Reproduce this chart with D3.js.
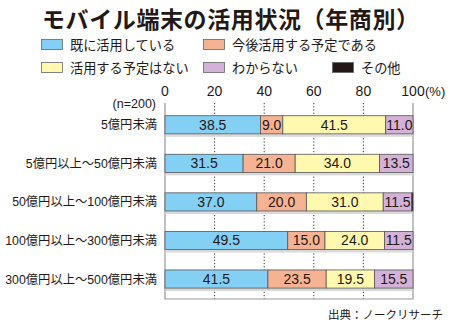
<!DOCTYPE html>
<html><head><meta charset="utf-8">
<script src="https://cdn.jsdelivr.net/npm/d3@7"></script>
<style>body{margin:0;background:#fff}svg{display:block}text{font-family:"Liberation Sans","Noto Sans CJK JP",sans-serif;fill:#231815}.jp{font-family:"Noto Sans CJK JP","Noto Sans",sans-serif}</style>
</head><body><svg id="c" width="450" height="324"></svg>
<script>
const title = "モバイル端末の活用状況（年商別）";
const categories = ["5億円未満","5億円以上～50億円未満","50億円以上～100億円未満","100億円以上～300億円未満","300億円以上～500億円未満"];
const seriesNames = ["既に活用している","今後活用する予定である","活用する予定はない","わからない","その他"];
const s1 = [38.5,31.5,37.0,49.5,41.5];
const s2 = [9.0,21.0,20.0,15.0,23.5];
const s3 = [41.5,34.0,31.0,24.0,19.5];
const s4 = [11.0,13.5,11.5,11.5,15.5];
const s5 = [0,0,0.5,0,0];
const ticks = [0,20,40,60,80,100];
const colors = ["#84d0f5","#f5b394","#fff9b0","#d4b2d8","#231815"];

const svg = d3.select("#c");
const series = [s1,s2,s3,s4,s5];
const x = d3.scaleLinear().domain([0,100]).range([165,413]);
const y = d3.scaleBand().domain(categories).range([105.5,298.3]).paddingInner(0.53).paddingOuter(0.265);

const tt = svg.append("text").attr("class","jp").attr("x",42).attr("y",28)
  .attr("font-size",23).attr("font-weight","bold").text(title);
const tl = tt.node().getComputedTextLength();
const n = title.length;
tt.style("letter-spacing", ((377 - tl)/(n-1)) + "px");

// legend
const legPos = [[41,45],[203,45],[41,68],[203,68],[332,68]];
seriesNames.forEach((nm,i)=>{
  const [lx,ly]=legPos[i];
  svg.append("rect").attr("x",lx+0.5).attr("y",ly-5.5).attr("width",21).attr("height",10)
    .attr("fill",colors[i]).attr("stroke","#666").attr("stroke-width",0.8);
  svg.append("text").attr("class","jp").attr("x",lx+29).attr("y",ly+5).attr("font-size",13.2).text(nm);
});

// gridlines
const g = svg.append("g");
[20,40,60,80].forEach(t=>{
  g.append("line").attr("x1",x(t)).attr("x2",x(t)).attr("y1",103).attr("y2",299)
    .attr("stroke","#333").attr("stroke-width",1).attr("stroke-dasharray","1.2,2");
});
// frame
g.append("path").attr("d",`M${x(0)},103V299H${x(100)}V103`).attr("fill","none").attr("stroke","#999").attr("stroke-width",1.2);

// tick labels
ticks.forEach(t=>{
  svg.append("text").attr("x",x(t)).attr("y",96).attr("text-anchor","middle").attr("font-size",14).text(t);
});
svg.append("text").attr("x",x(100)+12).attr("y",96).attr("font-size",13).text("(%)");
svg.append("text").attr("x",156).attr("y",108).attr("text-anchor","end").attr("font-size",12.5).text("(n=200)");

// bars
categories.forEach((c,ci)=>{
  const yy = y(c), h = y.bandwidth();
  svg.append("rect").attr("x",x(0)+0.5).attr("y",yy+h).attr("width",x(100)-x(0)-1).attr("height",3).attr("fill","#d9d9d9");
  let acc = 0;
  series.forEach((s,si)=>{
    const v = s[ci];
    if(v<=0) return;
    svg.append("rect").attr("x",x(acc)).attr("y",yy).attr("width",x(acc+v)-x(acc)).attr("height",h)
      .attr("fill",colors[si]).attr("stroke","#555").attr("stroke-width",0.8);
    if(v>=5){
      svg.append("text").attr("x",x(acc+v/2)).attr("y",yy+h/2+5).attr("text-anchor","middle")
        .attr("font-size",14).text(v.toFixed(1));
    }
    acc+=v;
  });
  svg.append("text").attr("x",157).attr("y",yy+h/2+4.5).attr("text-anchor","end").attr("font-size",12.3).text(c);
});

svg.append("text").attr("class","jp").attr("x",443).attr("y",319).attr("text-anchor","end").attr("font-size",11.5).text("出典：ノークリサーチ");
</script></body></html>
